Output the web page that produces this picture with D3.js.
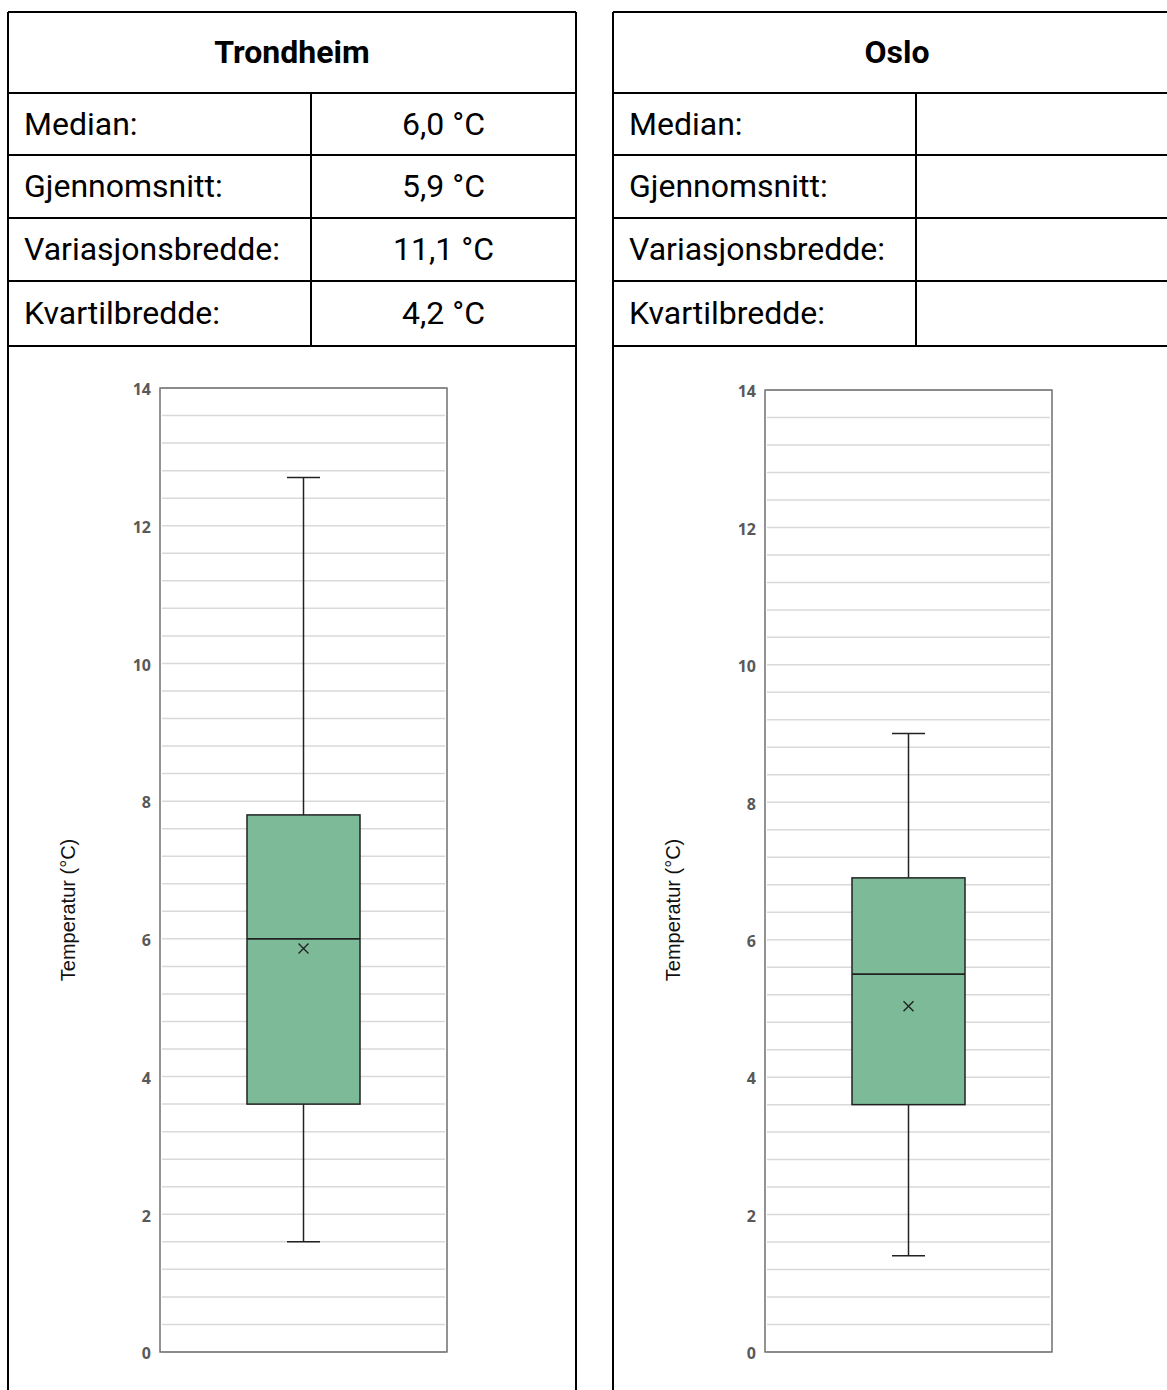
<!DOCTYPE html>
<html>
<head>
<meta charset="utf-8">
<script src="https://cdn.jsdelivr.net/npm/d3@7"></script>
<style>
  html, body { margin: 0; padding: 0; background: #fff; }
  svg { display: block; }
</style>
</head>
<body>
<svg id="chart" width="1167" height="1390"></svg>
<script>
// ---------- DATA ----------
const cities = ["Trondheim", "Oslo"];
const statLabels = ["Median:", "Gjennomsnitt:", "Variasjonsbredde:", "Kvartilbredde:"];
const trondheimStats = ["6,0 °C", "5,9 °C", "11,1 °C", "4,2 °C"];
const osloStats = ["", "", "", ""];
const statValues = [trondheimStats, osloStats];

const boxMin    = [1.6, 1.4];
const boxQ1     = [3.6, 3.6];
const boxMedian = [6.0, 5.5];
const boxQ3     = [7.8, 6.9];
const boxMax    = [12.7, 9.0];
const boxMean   = [5.86, 5.03];

const yTicks = [0, 2, 4, 6, 8, 10, 12, 14];
const yTitle = "Temperatur (°C)";

// ---------- LAYOUT ----------
const svg = d3.select("#chart");
const panelX = [8, 613];
const panelW = 568;
const colW = 303;
const rowY = [12, 93, 155, 218, 281, 346];
const font = "Roboto, 'Liberation Sans', Arial, sans-serif";
const tableSize = 32;

cities.forEach((city, ci) => {
  const g = svg.append("g").attr("transform", `translate(${panelX[ci]},0)`);
  const lineStyle = s => s.attr("stroke", "#000").attr("stroke-width", 2).attr("shape-rendering", "crispEdges");

  // outer borders
  g.append("line").attr("x1", 0).attr("x2", 0).attr("y1", rowY[0]).attr("y2", 1400).call(lineStyle);
  g.append("line").attr("x1", panelW).attr("x2", panelW).attr("y1", rowY[0]).attr("y2", 1400).call(lineStyle);
  rowY.forEach(y => {
    g.append("line").attr("x1", 0).attr("x2", panelW).attr("y1", y).attr("y2", y).call(lineStyle);
  });
  g.append("line").attr("x1", colW).attr("x2", colW).attr("y1", rowY[1]).attr("y2", rowY[5]).call(lineStyle);

  // header
  g.append("text")
    .attr("x", panelW / 2).attr("y", (rowY[0] + rowY[1]) / 2)
    .attr("dy", "0.34em").attr("text-anchor", "middle")
    .attr("font-family", font).attr("font-weight", 700).attr("font-size", tableSize)
    .attr("fill", "#000").text(city);

  statLabels.forEach((lab, i) => {
    const cy = (rowY[i + 1] + rowY[i + 2]) / 2;
    g.append("text").attr("x", 16).attr("y", cy).attr("dy", "0.33em")
      .attr("font-family", font).attr("font-size", tableSize).attr("fill", "#000").text(lab);
    g.append("text").attr("x", (colW + panelW) / 2).attr("y", cy).attr("dy", "0.33em")
      .attr("text-anchor", "middle")
      .attr("font-family", font).attr("font-size", tableSize).attr("fill", "#000").text(statValues[ci][i]);
  });

  // ---------- CHART ----------
  const plotL = 152, plotR = 439;
  const plotT = ci === 0 ? 388 : 390;
  const plotB = 1352;
  const y = d3.scaleLinear().domain([0, 14]).range([plotB, plotT]);
  const x = d3.scaleBand().domain([city]).range([plotL, plotR]).padding(0.435);

  const grid = d3.range(0, 14.001, 0.4);
  g.append("g").selectAll("line").data(grid).join("line")
    .attr("x1", plotL + 2).attr("x2", plotR - 2)
    .attr("y1", d => y(d)).attr("y2", d => y(d))
    .attr("stroke", "#d9d9d9").attr("stroke-width", 1.5);

  g.append("rect").attr("x", plotL).attr("y", plotT)
    .attr("width", plotR - plotL).attr("height", plotB - plotT)
    .attr("fill", "none").attr("stroke", "#666").attr("stroke-width", 1.4);

  const ax = g.append("g").attr("transform", `translate(${plotL - 9},0)`)
    .call(d3.axisLeft(y).tickValues(yTicks).tickSize(0).tickPadding(0).tickFormat(d3.format("d")));
  ax.select(".domain").remove();
  ax.selectAll("text").attr("font-family", "'Open Sans', 'Liberation Sans', Arial, sans-serif")
    .attr("font-weight", 700).attr("font-size", 16).attr("fill", "#595959").attr("dy", "0.42em");

  const cx = x(city) + x.bandwidth() / 2;
  const capW = 33;
  const stroke = "#222";

  // whiskers
  g.append("line").attr("x1", cx).attr("x2", cx).attr("y1", y(boxMax[ci])).attr("y2", y(boxQ3[ci]))
    .attr("stroke", stroke).attr("stroke-width", 1.5);
  g.append("line").attr("x1", cx).attr("x2", cx).attr("y1", y(boxQ1[ci])).attr("y2", y(boxMin[ci]))
    .attr("stroke", stroke).attr("stroke-width", 1.5);
  [boxMax[ci], boxMin[ci]].forEach(v => {
    g.append("line").attr("x1", cx - capW / 2).attr("x2", cx + capW / 2)
      .attr("y1", y(v)).attr("y2", y(v)).attr("stroke", stroke).attr("stroke-width", 1.5);
  });

  // box
  g.append("rect").attr("x", x(city)).attr("y", y(boxQ3[ci]))
    .attr("width", x.bandwidth()).attr("height", y(boxQ1[ci]) - y(boxQ3[ci]))
    .attr("fill", "#7dbb98").attr("stroke", stroke).attr("stroke-width", 1.5);
  g.append("line").attr("x1", x(city)).attr("x2", x(city) + x.bandwidth())
    .attr("y1", y(boxMedian[ci])).attr("y2", y(boxMedian[ci]))
    .attr("stroke", stroke).attr("stroke-width", 1.8);

  // mean marker
  const my = y(boxMean[ci]), s = 5;
  g.append("path").attr("d", `M${cx - s},${my - s}L${cx + s},${my + s}M${cx - s},${my + s}L${cx + s},${my - s}`)
    .attr("stroke", stroke).attr("stroke-width", 1.4).attr("fill", "none");

  // y title
  g.append("text")
    .attr("transform", `translate(60,910) rotate(-90)`)
    .attr("text-anchor", "middle").attr("dy", "0.35em")
    .attr("font-family", "'Liberation Sans', Arial, sans-serif").attr("font-size", 20).attr("fill", "#111")
    .text(yTitle);
});
</script>
</body>
</html>
